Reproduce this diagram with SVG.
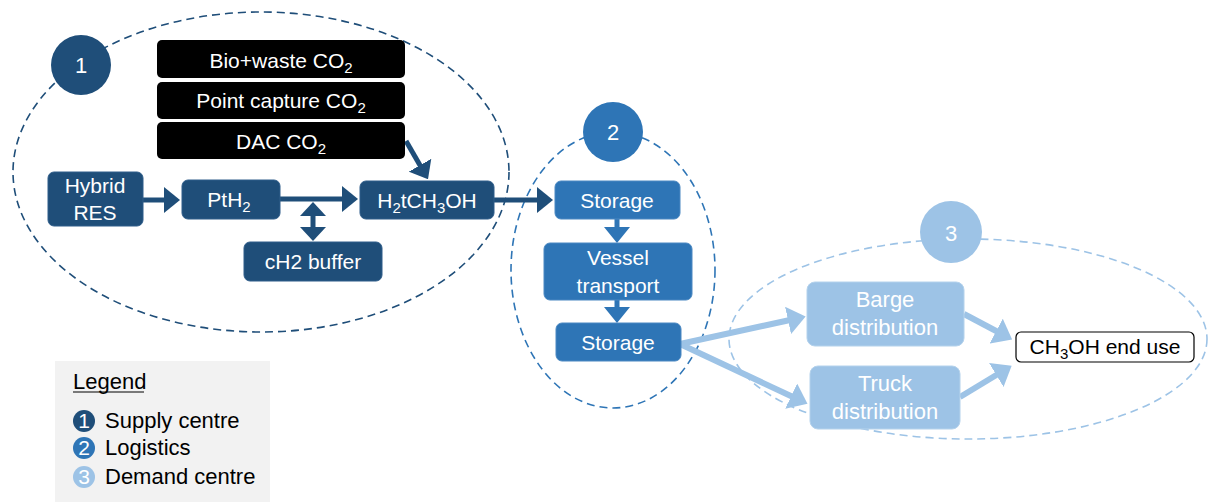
<svg xmlns="http://www.w3.org/2000/svg" width="1214" height="502" viewBox="0 0 1214 502">
<style>
text{font-family:"Liberation Sans",Arial,sans-serif;font-size:21px;text-anchor:middle}
.w{fill:#fff}
.k{fill:#000}
.dk{fill:#1F4E79;stroke:#2F5D8A;stroke-width:1}
.md{fill:#2E75B6;stroke:#4A88C2;stroke-width:1}
.lt{fill:#9DC3E6;stroke:#B4D2EC;stroke-width:1}
.bl{fill:#000}
.e{fill:none;stroke-width:1.6;stroke-dasharray:8 5}
.c1{stroke:#1F4E79;stroke-width:5;fill:none}
.c2{stroke:#2E75B6;stroke-width:5;fill:none}
.c3{stroke:#9DC3E6;stroke-width:6;fill:none}
.lg{font-size:22px;text-anchor:start}
.big{font-size:22px}
.sub{font-size:15px}
</style>
<defs>
<marker id="a1" markerUnits="userSpaceOnUse" markerWidth="16" markerHeight="26" refX="2" refY="13" orient="auto"><path d="M0,0 L16,13 L0,26 z" fill="#1F4E79"/></marker>
<marker id="a2" markerUnits="userSpaceOnUse" markerWidth="16" markerHeight="26" refX="2" refY="13" orient="auto"><path d="M0,0 L16,13 L0,26 z" fill="#2E75B6"/></marker>
<marker id="a3" markerUnits="userSpaceOnUse" markerWidth="18" markerHeight="28" refX="2" refY="14" orient="auto"><path d="M0,0 L18,14 L0,28 z" fill="#9DC3E6"/></marker>
<marker id="a1s" markerUnits="userSpaceOnUse" markerWidth="14" markerHeight="26" refX="2" refY="13" orient="auto-start-reverse"><path d="M0,0 L14,13 L0,26 z" fill="#1F4E79"/></marker>
</defs>

<g id="zones">
<ellipse class="e" cx="261" cy="172" rx="248" ry="160" stroke="#1F4E79"/>
<ellipse class="e" cx="613" cy="270" rx="102" ry="138" stroke="#2E75B6"/>
<ellipse class="e" cx="968" cy="339" rx="239" ry="100" stroke="#9DC3E6"/>
</g>

<g id="badge1"><circle cx="81" cy="65" r="30" fill="#1F4E79"/><text class="w big" x="81" y="73">1</text></g>
<g id="badge2"><circle cx="613" cy="132" r="30" fill="#2E75B6"/><text class="w big" x="613" y="140">2</text></g>
<g id="badge3"><circle cx="951" cy="232" r="31" fill="#9DC3E6"/><text class="w big" x="951" y="241">3</text></g>

<g id="connectors">
<line class="c1" x1="143" y1="200" x2="166" y2="200" marker-end="url(#a1)"/>
<line class="c1" x1="280" y1="199" x2="344" y2="199" marker-end="url(#a1)"/>
<line class="c1" x1="313" y1="214" x2="313" y2="229" marker-start="url(#a1s)" marker-end="url(#a1s)"/>
<line class="c1" x1="406" y1="141" x2="421" y2="167" marker-end="url(#a1)"/>
<line class="c1" x1="494" y1="200" x2="539" y2="200" marker-end="url(#a1)"/>
<line class="c2" x1="617" y1="219" x2="617" y2="229" marker-end="url(#a2)"/>
<line class="c2" x1="617" y1="300" x2="617" y2="309" marker-end="url(#a2)"/>
<line class="c3" x1="680" y1="344" x2="790" y2="320" marker-end="url(#a3)"/>
<line class="c3" x1="680" y1="344" x2="793" y2="397" marker-end="url(#a3)"/>
<line class="c3" x1="964" y1="314" x2="998" y2="332" marker-end="url(#a3)"/>
<line class="c3" x1="960" y1="397" x2="998" y2="374" marker-end="url(#a3)"/>
</g>

<g id="bio"><rect class="bl" x="157" y="40" width="248" height="38" rx="5"/><text class="w" x="281" y="68">Bio+waste CO<tspan class="sub" dy="5">2</tspan></text></g>
<g id="point"><rect class="bl" x="157" y="82" width="248" height="37" rx="5"/><text class="w" x="281" y="108">Point capture CO<tspan class="sub" dy="5">2</tspan></text></g>
<g id="dac"><rect class="bl" x="157" y="122" width="248" height="37" rx="5"/><text class="w" x="281" y="149">DAC CO<tspan class="sub" dy="5">2</tspan></text></g>

<g id="hybrid"><rect class="dk" x="48" y="172" width="95" height="54" rx="6"/><text class="w" x="95" y="193">Hybrid</text><text class="w" x="95" y="220">RES</text></g>
<g id="pth2"><rect class="dk" x="182" y="180" width="98" height="39" rx="6"/><text class="w" x="229" y="207">PtH<tspan class="sub" dy="5">2</tspan></text></g>
<g id="h2tch3oh"><rect class="dk" x="360" y="181" width="134" height="38" rx="6"/><text class="w" x="427" y="208">H<tspan class="sub" dy="5">2</tspan><tspan dy="-5">tCH</tspan><tspan class="sub" dy="5">3</tspan><tspan dy="-5">OH</tspan></text></g>
<g id="buffer"><rect class="dk" x="244" y="242" width="138" height="39" rx="6"/><text class="w" x="313" y="269">cH2 buffer</text></g>

<g id="storage1"><rect class="md" x="555" y="181" width="125" height="38" rx="6"/><text class="w" x="617" y="208">Storage</text></g>
<g id="vessel"><rect class="md" x="544" y="243" width="148" height="57" rx="6"/><text class="w" x="618" y="265">Vessel</text><text class="w" x="618" y="293">transport</text></g>
<g id="storage2"><rect class="md" x="556" y="323" width="125" height="38" rx="6"/><text class="w" x="618" y="350">Storage</text></g>

<g id="barge"><rect class="lt" x="807" y="282" width="157" height="64" rx="8"/><text class="w big" x="885" y="307">Barge</text><text class="w big" x="885" y="335">distribution</text></g>
<g id="truck"><rect class="lt" x="810" y="366" width="150" height="63" rx="8"/><text class="w big" x="885" y="391">Truck</text><text class="w big" x="885" y="419">distribution</text></g>
<g id="enduse"><rect x="1016" y="332" width="178" height="30" rx="5" fill="#fff" stroke="#000" stroke-width="1.2"/><text class="k" x="1105" y="354">CH<tspan class="sub" dy="5">3</tspan><tspan dy="-5">OH end use</tspan></text></g>

<g id="legend">
<rect x="55" y="361" width="215" height="141" fill="#F2F2F2"/>
<text class="lg k" x="73" y="389" font-size="21">Legend</text>
<line x1="73" y1="392" x2="144" y2="392" stroke="#000" stroke-width="1.2"/>
<circle cx="84" cy="421" r="11" fill="#1F4E79"/><text class="w" x="84" y="428" font-size="18">1</text>
<text class="lg k" x="105" y="428">Supply centre</text>
<circle cx="84" cy="448" r="11" fill="#2E75B6"/><text class="w" x="84" y="455" font-size="18">2</text>
<text class="lg k" x="105" y="455">Logistics</text>
<circle cx="84" cy="477" r="11" fill="#9DC3E6"/><text class="w" x="84" y="484" font-size="18">3</text>
<text class="lg k" x="105" y="484">Demand centre</text>
</g>
</svg>
